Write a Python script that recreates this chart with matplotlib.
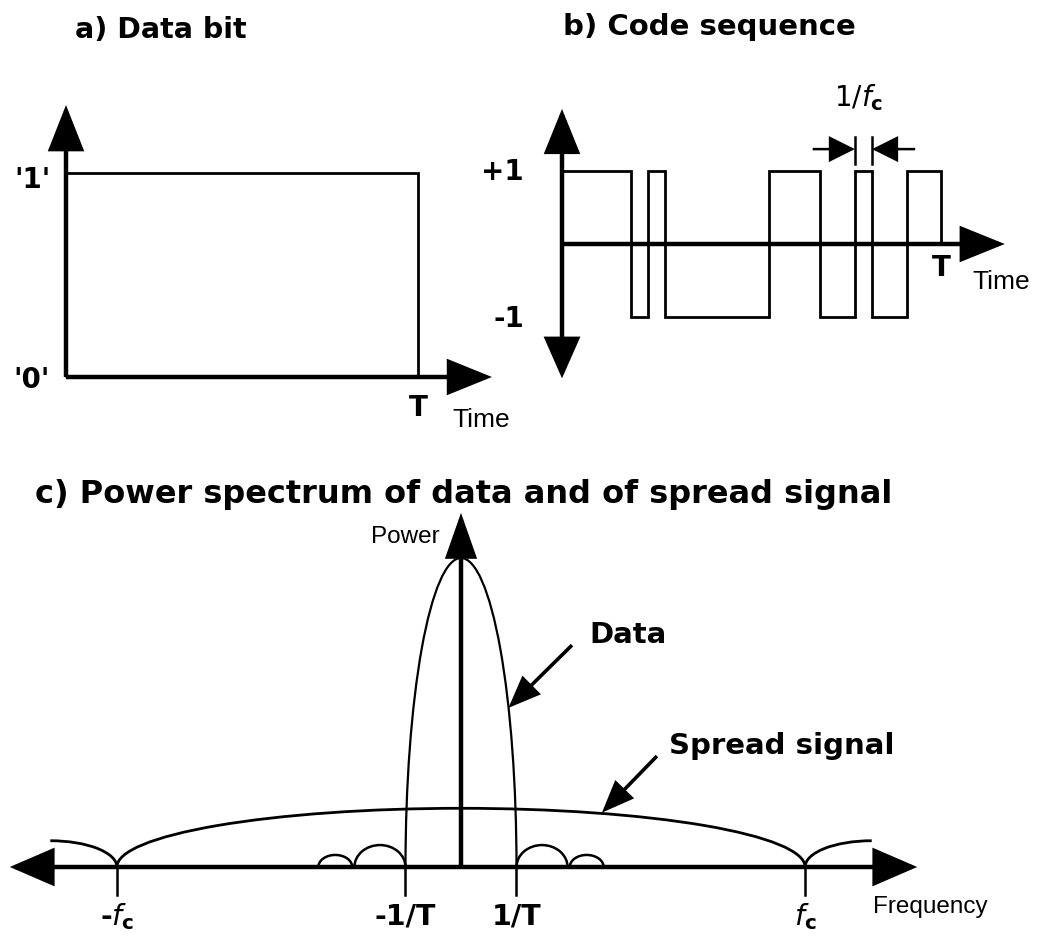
import matplotlib
matplotlib.use("Agg")
import matplotlib.pyplot as plt
from matplotlib.patches import FancyArrowPatch, Arc, ArrowStyle
from matplotlib import font_manager

# ---------------- data ----------------
# a) data bit (one bit of value '1' over period T)
bit_levels = [1]
bit_edges = [0, 1]              # time in units of T

# b) code sequence: run lengths (in chips) and levels
code_runs = [4, 1, 1, 6, 3, 2, 1, 2, 2]
code_levels = [1, -1, 1, -1, 1, -1, 1, -1, 1]
chip_mark = [17, 18]            # chip shown as 1/fc

# c) power spectra (frequency in units of 1/T, power relative to data peak)
fc = 6.2
data_main = dict(left=-1.0, right=1.0, height=1.0)
data_side = [(1.0, 1.92, 0.071), (1.96, 2.57, 0.039),
             (-1.92, -1.0, 0.071), (-2.57, -1.96, 0.039)]
spread_main = dict(left=-fc, right=fc, height=0.19)
spread_outer_width = 1.2
spread_outer_height = 0.085
freq_ticks = [-fc, -1.0, 1.0, fc]
freq_labels = [r"-$f_{\mathbf{c}}$", "-1/T", "1/T", r"$f_{\mathbf{c}}$"]

# ---------------- helpers ----------------
W, H = 1037, 942
fig = plt.figure(figsize=(W / 100, H / 100), dpi=100)

names = {f.name for f in font_manager.fontManager.ttflist}
NARROW = "Liberation Sans Narrow" if "Liberation Sans Narrow" in names else "Liberation Sans"
BOLD = "DejaVu Sans"

PX2PT = 72 / 100.0


def panel(xpx, xdata, ypx, ydata, xlim, ylim):
    sx = (xpx[1] - xpx[0]) / (xdata[1] - xdata[0])
    sy = (ypx[1] - ypx[0]) / (ydata[1] - ydata[0])
    left = xpx[0] + (xlim[0] - xdata[0]) * sx
    right = xpx[0] + (xlim[1] - xdata[0]) * sx
    top = ypx[0] + (ylim[1] - ydata[0]) * sy
    bottom = ypx[0] + (ylim[0] - ydata[0]) * sy
    ax = fig.add_axes([left / W, 1 - bottom / H, (right - left) / W, (bottom - top) / H])
    ax.set_xlim(*xlim)
    ax.set_ylim(*ylim)
    ax.axis("off")
    return ax


def arrow(ax, start, end, lw, hl_px, hw_px):
    st = ArrowStyle("-|>", head_length=hl_px * PX2PT, head_width=hw_px / 2 * PX2PT)
    p = FancyArrowPatch(start, end, arrowstyle=st, mutation_scale=1, shrinkA=0, shrinkB=0,
                        lw=lw, color="black", joinstyle="miter", capstyle="butt", clip_on=False)
    ax.add_patch(p)


def ftext(x, y, s, **kw):
    fig.text(x / W, 1 - y / H, s, **kw)


# ---------------- titles ----------------
ftext(75, 30, "a) Data bit", fontsize=20.5, fontweight="bold", family=BOLD, va="center")
ftext(563, 27, "b) Code sequence", fontsize=21, fontweight="bold", family=BOLD, va="center")
ftext(35, 494, "c) Power spectrum of data and of spread signal", fontsize=23,
      fontweight="bold", family=BOLD, va="center")

# ---------------- panel a ----------------
axa = panel((66, 418), (0, 1), (377, 173), (0, 1), (-0.4, 1.4), (-0.3, 1.5))
axa.stairs(bit_levels, bit_edges, baseline=0, color="black", lw=2.0, clip_on=False)
arrow(axa, (0, 0), (1.21, 0), 3.2, 37, 30)
arrow(axa, (0, 0), (0, 1.333), 3.2, 38, 30)
axa.text(-0.045, 0.966, "'1'", ha="right", va="center", fontsize=20, fontweight="bold", family=BOLD)
axa.text(-0.045, -0.015, "'0'", ha="right", va="center", fontsize=20, fontweight="bold", family=BOLD)
axa.text(1.0, -0.15, "T", ha="center", va="center", fontsize=20, fontweight="bold", family=BOLD)
axa.text(1.097, -0.21, "Time", ha="left", va="center", fontsize=19, family=NARROW)

# ---------------- panel b ----------------
edges = [0]
for r in code_runs:
    edges.append(edges[-1] + r)
T_chips = edges[-1]
axb = panel((562, 941), (0, T_chips), (244, 171), (0, 1), (-3.5, 27), (-2.0, 2.5))
axb.stairs(code_levels, edges, baseline=0, color="black", lw=2.0, clip_on=False)
arrow(axb, (0, 0), (25.7, 0), 3.2, 37, 30)
arrow(axb, (0, 0), (0, 1.85), 3.2, 37, 30)
arrow(axb, (0, 0), (0, -1.84), 3.2, 34, 30)
for c in chip_mark:
    axb.plot([c, c], [1.09, 1.47], color="black", lw=1.8, clip_on=False)
arrow(axb, (chip_mark[0] - 2.45, 1.30), (chip_mark[0], 1.30), 1.8, 22, 22)
arrow(axb, (chip_mark[1] + 2.5, 1.30), (chip_mark[1], 1.30), 1.8, 22, 22)
axb.text(17.2, 2.0, r"1/$f_{\mathbf{c}}$", ha="center", va="center", fontsize=20)
axb.text(-2.2, 0.986, "+1", ha="right", va="center", fontsize=20, fontweight="bold", family=BOLD)
axb.text(-2.2, -1.03, "-1", ha="right", va="center", fontsize=20, fontweight="bold", family=BOLD)
axb.text(T_chips, -0.33, "T", ha="center", va="center", fontsize=20, fontweight="bold", family=BOLD)
axb.text(23.85, -0.52, "Time", ha="left", va="center", fontsize=19, family=NARROW)

# ---------------- panel c ----------------
axc = panel((461, 516.5), (0, 1), (867, 558), (0, 1), (-8.5, 8.6), (-0.3, 1.25))


def lobe(ax, left, right, height, lw, t1=0, t2=180):
    a = Arc(((left + right) / 2, 0), right - left, 2 * height, theta1=t1, theta2=t2,
            color="black", lw=lw, clip_on=False)
    ax.add_patch(a)


lobe(axc, data_main["left"], data_main["right"], data_main["height"], 1.6)
for l, r, h in data_side:
    lobe(axc, l, r, h, 1.8)
lobe(axc, spread_main["left"], spread_main["right"], spread_main["height"], 2.0)
lobe(axc, fc, fc + 2 * spread_outer_width, spread_outer_height, 2.0, 90, 180)
lobe(axc, -fc - 2 * spread_outer_width, -fc, spread_outer_height, 2.0, 0, 90)

arrow(axc, (0, 0), (8.22, 0), 3.2, 37, 32)
arrow(axc, (0, 0), (-8.13, 0), 3.2, 37, 32)
arrow(axc, (0, 0), (0, 1.146), 3.2, 37, 26)
for t in freq_ticks:
    axc.plot([t, t], [0, -0.09], color="black", lw=1.8, clip_on=False)
for t, lab in zip(freq_ticks, freq_labels):
    axc.text(t, -0.16, lab, ha="center", va="center", fontsize=20.5, fontweight="bold", family=BOLD)
axc.text(7.42, -0.13, "Frequency", ha="left", va="center", fontsize=17.5, family=NARROW)
axc.text(-0.38, 1.068, "Power", ha="right", va="center", fontsize=17.5, family=NARROW)

axc.text(2.32, 0.75, "Data", ha="left", va="center", fontsize=21, fontweight="bold", family=BOLD)
arrow(axc, (2.0, 0.718), (0.855, 0.515), 2.6, 26, 21)
axc.text(3.75, 0.39, "Spread signal", ha="left", va="center", fontsize=21, fontweight="bold", family=BOLD)
arrow(axc, (3.53, 0.359), (2.54, 0.176), 2.6, 26, 21)

fig.savefig("out.png", dpi=100)
